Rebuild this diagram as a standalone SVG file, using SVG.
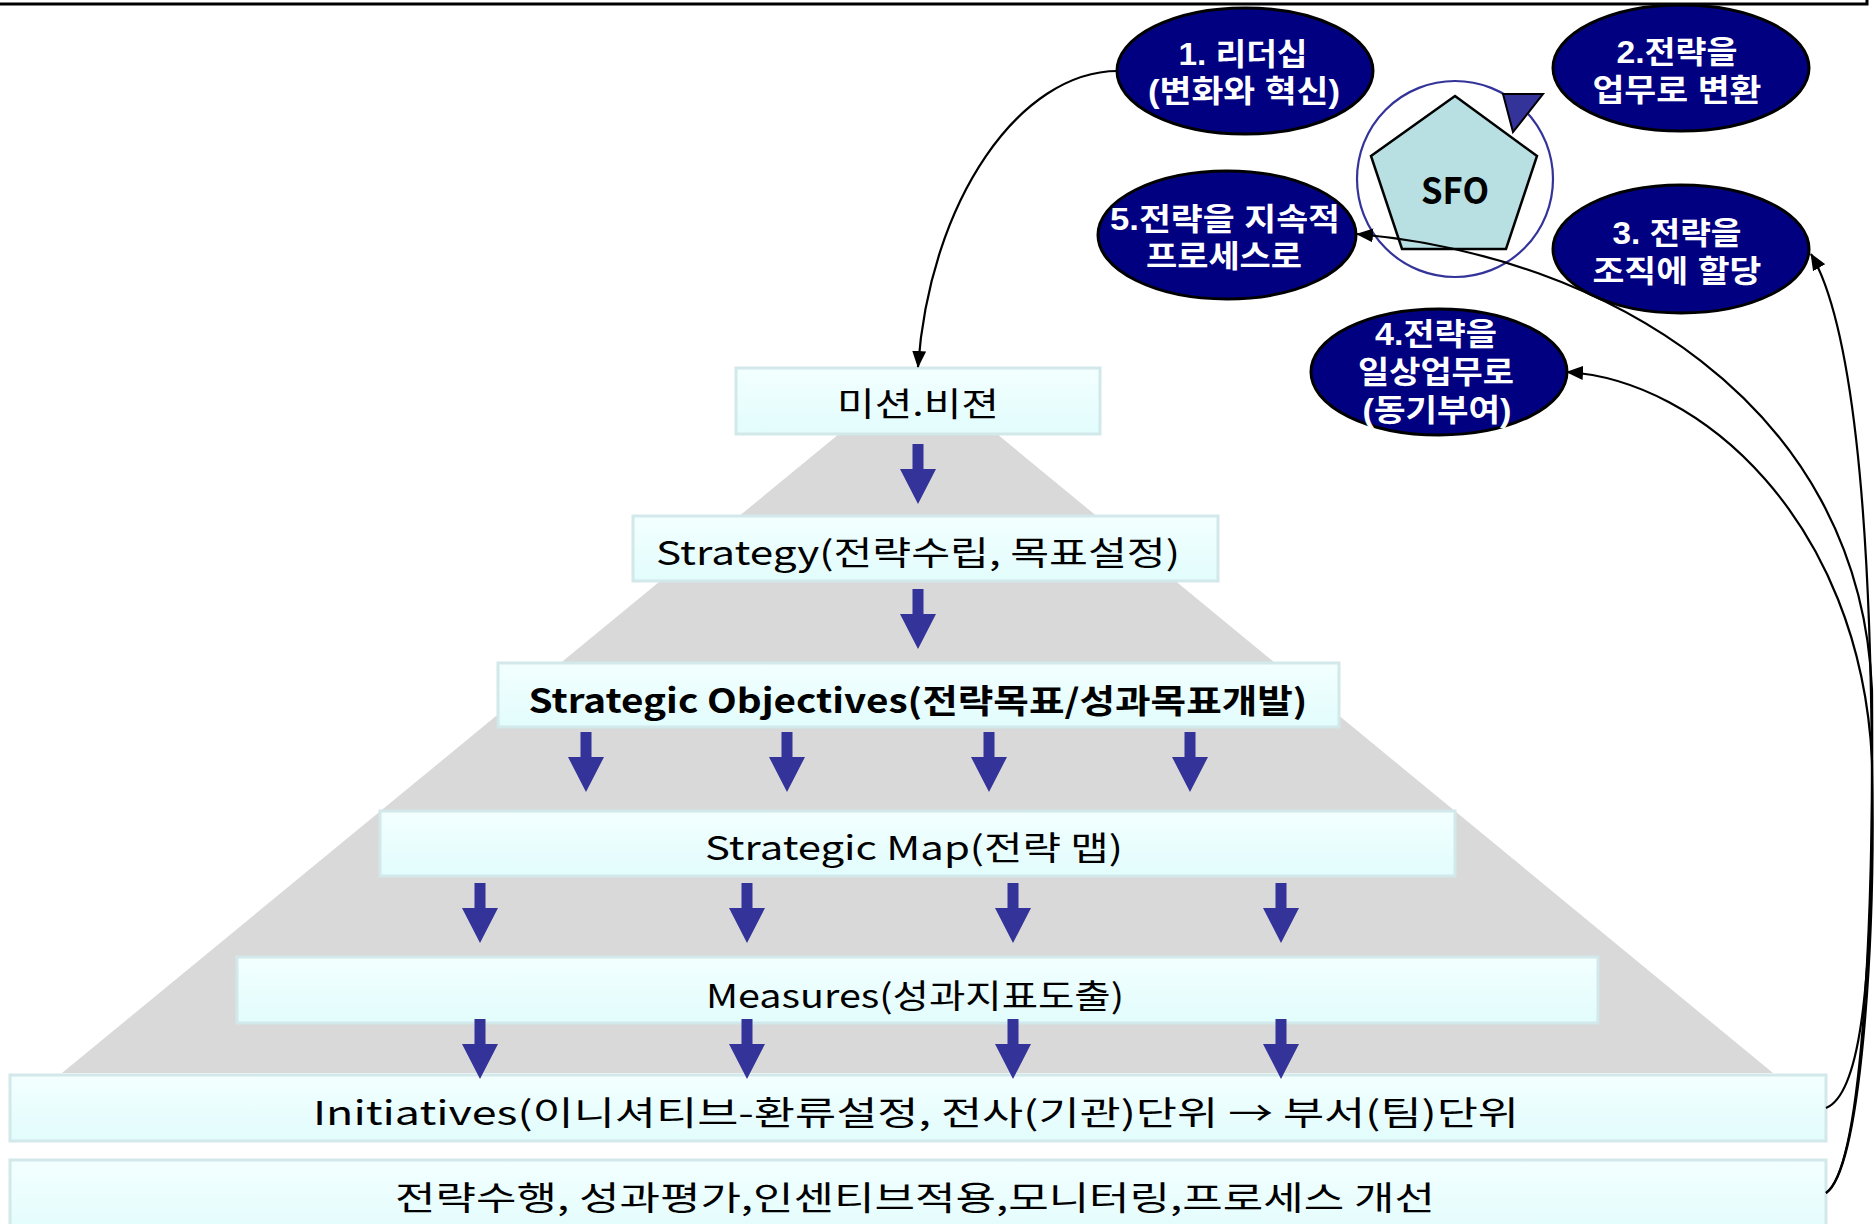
<svg xmlns="http://www.w3.org/2000/svg" xmlns:xlink="http://www.w3.org/1999/xlink" width="1876" height="1224" viewBox="0 0 1876 1224">
<style>
.box{fill:url(#boxg);stroke:#d2e8ea;stroke-width:3}
.bt{font-family:"Noto Sans CJK KR","Noto Sans",sans-serif;font-size:33px;fill:#000;text-anchor:middle}
.ell{fill:#000080;stroke:#000;stroke-width:3}
.et{font-family:"Liberation Sans","Noto Sans CJK KR",sans-serif;font-size:31px;font-weight:bold;fill:#fff;text-anchor:middle}
.ln{fill:none;stroke:#000;stroke-width:2.2}
.ba{fill:#333399}
</style>
<defs>
<linearGradient id="boxg" x1="0" y1="0" x2="0" y2="1">
<stop offset="0" stop-color="#f3ffff"/>
<stop offset="1" stop-color="#e2fcfc"/>
</linearGradient>
<path id="barrow" d="M-5.5,0 H5.5 V25 H18 L0,60 L-18,25 H-5.5 Z"/>
<marker id="ah" markerUnits="userSpaceOnUse" markerWidth="18" markerHeight="14" refX="16" refY="7" orient="auto">
<path d="M0,0 L17,7 L0,14 Z" fill="#000"/>
</marker>
</defs>
<rect width="1876" height="1224" fill="#fff"/>
<path d="M0,4 L1867,4 L1867,-4" fill="none" stroke="#000" stroke-width="3"/>
<g id="pyramid">
<polygon points="918,369 1773,1073 62,1073" fill="#d9d9d9"/>
</g>
<g id="mission"><rect class="box" x="736" y="368" width="364" height="66"/><text class="bt" x="918" y="416" textLength="162" lengthAdjust="spacingAndGlyphs">미션.비젼</text></g>
<g id="strategy"><rect class="box" x="633" y="516" width="585" height="65"/><text class="bt" x="918" y="565" textLength="524" lengthAdjust="spacingAndGlyphs">Strategy(전략수립, 목표설정)</text></g>
<g id="objectives"><rect class="box" x="498" y="663" width="841" height="64"/><text class="bt" x="918" y="713" font-weight="bold" textLength="779" lengthAdjust="spacingAndGlyphs">Strategic Objectives(전략목표/성과목표개발)</text></g>
<g id="map"><rect class="box" x="380" y="811" width="1075" height="65"/><text class="bt" x="914" y="860" textLength="418" lengthAdjust="spacingAndGlyphs">Strategic Map(전략 맵)</text></g>
<g id="measures"><rect class="box" x="237" y="957" width="1361" height="66"/><text class="bt" x="915" y="1008" textLength="418" lengthAdjust="spacingAndGlyphs">Measures(성과지표도출)</text></g>
<g id="initiatives"><rect class="box" x="10" y="1075" width="1816" height="66"/><text class="bt" x="916" y="1125" textLength="1206" lengthAdjust="spacingAndGlyphs">Initiatives(이니셔티브-환류설정, 전사(기관)단위 → 부서(팀)단위</text></g>
<g id="execution"><rect class="box" x="10" y="1160" width="1816" height="80"/><text class="bt" x="915" y="1210" textLength="1040" lengthAdjust="spacingAndGlyphs">전략수행, 성과평가,인센티브적용,모니터링,프로세스 개선</text></g>
<g id="sfo">
<circle cx="1455" cy="179" r="98" fill="none" stroke="#333399" stroke-width="2.2"/>
<polygon points="1455,96 1537,156 1506,249 1402,249 1371,156" fill="#b8e0e3" stroke="#000" stroke-width="2.5"/>
<text x="1455" y="204" font-family="'Noto Sans CJK KR','Liberation Sans',sans-serif" font-size="36" font-weight="bold" text-anchor="middle" textLength="68" lengthAdjust="spacingAndGlyphs">SFO</text>
<polygon points="1503,94 1543,94 1513,132" fill="#333399" stroke="#000" stroke-width="2"/>
</g>
<g id="e1"><ellipse class="ell" cx="1245" cy="71" rx="128" ry="63"/><text class="et" x="1243" y="65" textLength="129" lengthAdjust="spacingAndGlyphs">1. 리더십</text><text class="et" x="1244" y="102" textLength="192" lengthAdjust="spacingAndGlyphs">(변화와 혁신)</text></g>
<g id="e2"><ellipse class="ell" cx="1681" cy="68" rx="128" ry="63"/><text class="et" x="1677" y="63" textLength="121" lengthAdjust="spacingAndGlyphs">2.전략을</text><text class="et" x="1677" y="101" textLength="169" lengthAdjust="spacingAndGlyphs">업무로 변환</text></g>
<g id="e3"><ellipse class="ell" cx="1681" cy="249" rx="128" ry="64"/><text class="et" x="1677" y="244" textLength="129" lengthAdjust="spacingAndGlyphs">3. 전략을</text><text class="et" x="1677" y="282" textLength="169" lengthAdjust="spacingAndGlyphs">조직에 할당</text></g>
<g id="e4"><ellipse class="ell" cx="1439" cy="372" rx="128" ry="63"/><text class="et" x="1436" y="345" textLength="122" lengthAdjust="spacingAndGlyphs">4.전략을</text><text class="et" x="1436" y="383" textLength="156" lengthAdjust="spacingAndGlyphs">일상업무로</text><text class="et" x="1437" y="421" textLength="149" lengthAdjust="spacingAndGlyphs">(동기부여)</text></g>
<g id="e5"><ellipse class="ell" cx="1227" cy="235" rx="129" ry="64"/><text class="et" x="1225" y="230" textLength="230" lengthAdjust="spacingAndGlyphs">5.전략을 지속적</text><text class="et" x="1224" y="267" textLength="156" lengthAdjust="spacingAndGlyphs">프로세스로</text></g>
<g id="connectors">
<use href="#barrow" class="ba" x="918" y="444"/>
<use href="#barrow" class="ba" x="918" y="589"/>
<use href="#barrow" class="ba" x="586" y="732"/>
<use href="#barrow" class="ba" x="787" y="732"/>
<use href="#barrow" class="ba" x="989" y="732"/>
<use href="#barrow" class="ba" x="1190" y="732"/>
<use href="#barrow" class="ba" x="480" y="883"/>
<use href="#barrow" class="ba" x="747" y="883"/>
<use href="#barrow" class="ba" x="1013" y="883"/>
<use href="#barrow" class="ba" x="1281" y="883"/>
<use href="#barrow" class="ba" x="480" y="1019"/>
<use href="#barrow" class="ba" x="747" y="1019"/>
<use href="#barrow" class="ba" x="1013" y="1019"/>
<use href="#barrow" class="ba" x="1281" y="1019"/>
<path class="ln" d="M1118,71 C1020,71 930,200 918,367" marker-end="url(#ah)"/>
<path class="ln" d="M1826,1108 C1858,1095 1872,1000 1872,800 C1872,500 1850,320 1811,254" marker-end="url(#ah)"/>
<path class="ln" d="M1826,1193 C1860,1170 1874,950 1872,690 C1860,400 1600,255 1357,234" marker-end="url(#ah)"/>
<path class="ln" d="M1826,1193 C1860,1170 1876,950 1872,760 C1860,520 1700,380 1567,372" marker-end="url(#ah)"/>
</g>
</svg>
